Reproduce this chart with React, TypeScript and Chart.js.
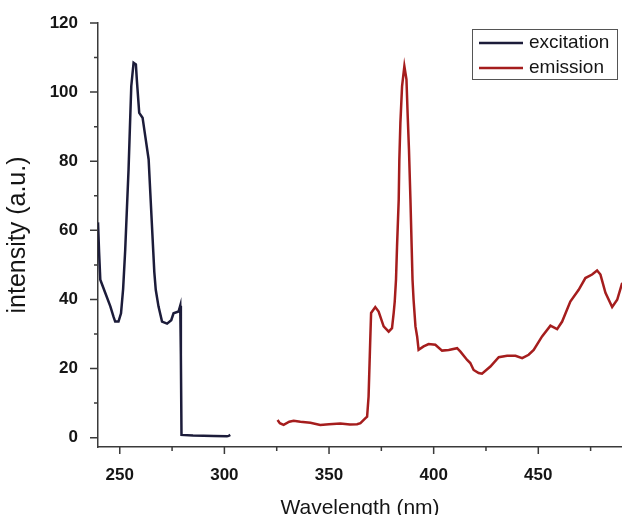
import React, { useEffect, useRef } from "react";
import { Chart, registerables } from "chart.js";

Chart.register(...registerables);

const excitationWavelength = [239.6, 240.1, 240.7, 243, 245.5, 247, 247.8, 249.4, 250.6, 251.6, 252.6, 253.4, 254.2, 255.0, 255.5, 256.6, 257.7, 258.2, 259.3, 260.9, 262.2, 263.8, 264.6, 265.4, 266.0, 266.5, 267.2, 268.5, 270.2, 272.6, 274.6, 275.7, 278.1, 278.9, 279.2, 279.5, 285, 295, 301.2, 302, 302.8];
const excitationIntensity = [62.3, 54, 45.7, 42, 38, 35, 33.6, 33.6, 36, 43, 54.3, 66, 77.6, 92.6, 101.7, 108.5, 108, 103.2, 94, 92.6, 87.2, 80.5, 70.8, 61.2, 54, 48, 42.8, 38, 33.6, 33, 34, 36, 36.5, 38.2, 24, 0.8, 0.6, 0.5, 0.4, 0.5, 0.8];

const emissionWavelength = [325.4, 326.5, 328.3, 331, 333.1, 336.3, 341.1, 345.8, 350, 355.4, 360, 363.4, 365.0, 367.3, 368.2, 368.9, 369.7, 370.1, 372.1, 373.7, 376.1, 378.5, 380.1, 380.9, 381.4, 382.0, 382.5, 383.3, 383.6, 384.1, 384.9, 386.0, 387.0, 387.6, 388.2, 388.9, 389.5, 389.9, 390.4, 391.3, 392.1, 392.8, 395.2, 397.6, 400.8, 404.0, 407.2, 411.2, 412.8, 416.0, 417.5, 419.1, 421.5, 423.1, 427.1, 431.1, 435.1, 439.1, 442.3, 445.4, 447.8, 451.8, 455.8, 459.0, 461.4, 465.3, 469.3, 472.5, 475.7, 478.1, 479.7, 482.1, 485.3, 487.7, 490.1];
const emissionIntensity = [5.1, 4.2, 3.7, 4.6, 4.9, 4.6, 4.3, 3.7, 3.9, 4.1, 3.8, 3.9, 4.2, 5.6, 6.1, 11.9, 28.3, 36.1, 37.8, 36.5, 32.2, 30.7, 31.7, 36.1, 39.4, 45.7, 55.4, 68.9, 80.5, 91.1, 101.7, 107.5, 103.7, 93, 83.4, 69, 55, 45.7, 39.9, 32.2, 29.3, 25.4, 26.4, 27.1, 26.9, 25.2, 25.4, 25.9, 24.9, 22.5, 21.6, 19.6, 18.7, 18.5, 20.6, 23.3, 23.7, 23.7, 23, 24, 25.4, 29.3, 32.4, 31.4, 33.6, 39.4, 42.8, 46.2, 47.2, 48.4, 47.2, 41.9, 37.8, 39.9, 44.8];

const xMajorTicks = [250, 300, 350, 400, 450];
const xMinorTicks = [275, 325, 375, 425, 475];
const yMajorTicks = [0, 20, 40, 60, 80, 100, 120];
const yMinorTicks = [10, 30, 50, 70, 90, 110];

const seriesLabels = ["excitation", "emission"];
const seriesColors = ["#1c1c3a", "#a51d1d"];

const FONT = "'Liberation Sans', Arial, sans-serif";
const AXIS_COLOR = "#3a3a3a";
const TEXT_COLOR = "#151515";

const tickMarksPlugin = {
  id: "tickMarks",
  afterDraw(chart: any) {
    const ctx = chart.ctx;
    const xs = chart.scales.x;
    const ys = chart.scales.y;
    const area = chart.chartArea;
    ctx.save();
    ctx.strokeStyle = AXIS_COLOR;
    ctx.lineWidth = 1.5;
    ctx.beginPath();
    xMajorTicks.forEach((v) => {
      const px = xs.getPixelForValue(v);
      ctx.moveTo(px, area.bottom);
      ctx.lineTo(px, area.bottom + 7);
    });
    xMinorTicks.forEach((v) => {
      const px = xs.getPixelForValue(v);
      ctx.moveTo(px, area.bottom);
      ctx.lineTo(px, area.bottom + 4);
    });
    yMajorTicks.forEach((v) => {
      const py = ys.getPixelForValue(v);
      ctx.moveTo(area.left, py);
      ctx.lineTo(area.left - 8, py);
    });
    yMinorTicks.forEach((v) => {
      const py = ys.getPixelForValue(v);
      ctx.moveTo(area.left, py);
      ctx.lineTo(area.left - 4, py);
    });
    ctx.stroke();
    ctx.restore();
  },
};

const legendBoxPlugin = {
  id: "legendBox",
  afterDraw(chart: any) {
    const ctx = chart.ctx;
    const area = chart.chartArea;
    const boxW = 145;
    const boxH = 50;
    const bx = area.right - 5 - boxW;
    const by = area.top + 6;
    ctx.save();
    ctx.fillStyle = "#ffffff";
    ctx.fillRect(bx, by, boxW, boxH);
    ctx.strokeStyle = "#555555";
    ctx.lineWidth = 1;
    ctx.strokeRect(bx + 0.5, by + 0.5, boxW, boxH);
    ctx.font = `19px ${FONT}`;
    ctx.textBaseline = "middle";
    ctx.fillStyle = TEXT_COLOR;
    chart.data.datasets.forEach((ds: any, i: number) => {
      const cy = by + 14 + i * 25;
      ctx.strokeStyle = ds.borderColor;
      ctx.lineWidth = 2.5;
      ctx.beginPath();
      ctx.moveTo(bx + 7, cy);
      ctx.lineTo(bx + 51, cy);
      ctx.stroke();
      ctx.fillStyle = TEXT_COLOR;
      ctx.fillText(ds.label, bx + 57, cy);
    });
    ctx.restore();
  },
};

export default function App() {
  const canvasRef = useRef<HTMLCanvasElement | null>(null);

  useEffect(() => {
    document.body.style.margin = "0";
    const canvas = canvasRef.current;
    if (!canvas) return;
    const chart = new Chart(canvas, {
      type: "scatter",
      data: {
        datasets: [
          {
            label: seriesLabels[0],
            data: excitationWavelength.map((x, i) => ({ x, y: excitationIntensity[i] })),
            borderColor: seriesColors[0],
            backgroundColor: seriesColors[0],
            showLine: true,
            borderWidth: 2.5,
            pointRadius: 0,
            tension: 0,
          },
          {
            label: seriesLabels[1],
            data: emissionWavelength.map((x, i) => ({ x, y: emissionIntensity[i] })),
            borderColor: seriesColors[1],
            backgroundColor: seriesColors[1],
            showLine: true,
            borderWidth: 2.5,
            pointRadius: 0,
            tension: 0,
          },
        ],
      },
      options: {
        animation: false,
        responsive: false,
        devicePixelRatio: 1,
        layout: { padding: { top: 23, right: 0, left: 0, bottom: 0 } },
        plugins: { legend: { display: false }, tooltip: { enabled: false } },
        scales: {
          x: {
            type: "linear",
            min: 239.6,
            max: 490,
            grid: { display: false },
            border: { display: true, color: AXIS_COLOR, width: 1.5 },
            afterBuildTicks: (scale: any) => {
              scale.ticks = xMajorTicks.map((v) => ({ value: v }));
            },
            afterFit: (scale: any) => {
              scale.height = 68;
              scale.paddingLeft = 0;
              scale.paddingRight = 0;
            },
            ticks: {
              padding: 10,
              color: TEXT_COLOR,
              font: { family: FONT, size: 17, weight: "bold" },
              maxRotation: 0,
            },
            title: {
              display: true,
              text: "Wavelength (nm)",
              color: TEXT_COLOR,
              font: { family: FONT, size: 21 },
              padding: { top: 0, bottom: -6 },
            },
          },
          y: {
            type: "linear",
            min: -2.7,
            max: 120,
            grid: { display: false },
            border: { display: true, color: AXIS_COLOR, width: 1.5 },
            afterBuildTicks: (scale: any) => {
              scale.ticks = yMajorTicks.map((v) => ({ value: v }));
            },
            afterFit: (scale: any) => {
              scale.width = 98;
              scale.paddingTop = 0;
              scale.paddingBottom = 0;
            },
            ticks: {
              padding: 12,
              color: TEXT_COLOR,
              font: { family: FONT, size: 17, weight: "bold" },
            },
            title: {
              display: true,
              text: "intensity (a.u.)",
              color: TEXT_COLOR,
              font: { family: FONT, size: 25 },
              padding: { top: 3, bottom: 0 },
            },
          },
        },
      },
      plugins: [tickMarksPlugin, legendBoxPlugin],
    });
    return () => chart.destroy();
  }, []);

  return (
    <div style={{ width: 622, height: 515, background: "#ffffff" }}>
      <canvas ref={canvasRef} width={622} height={515} />
    </div>
  );
}
